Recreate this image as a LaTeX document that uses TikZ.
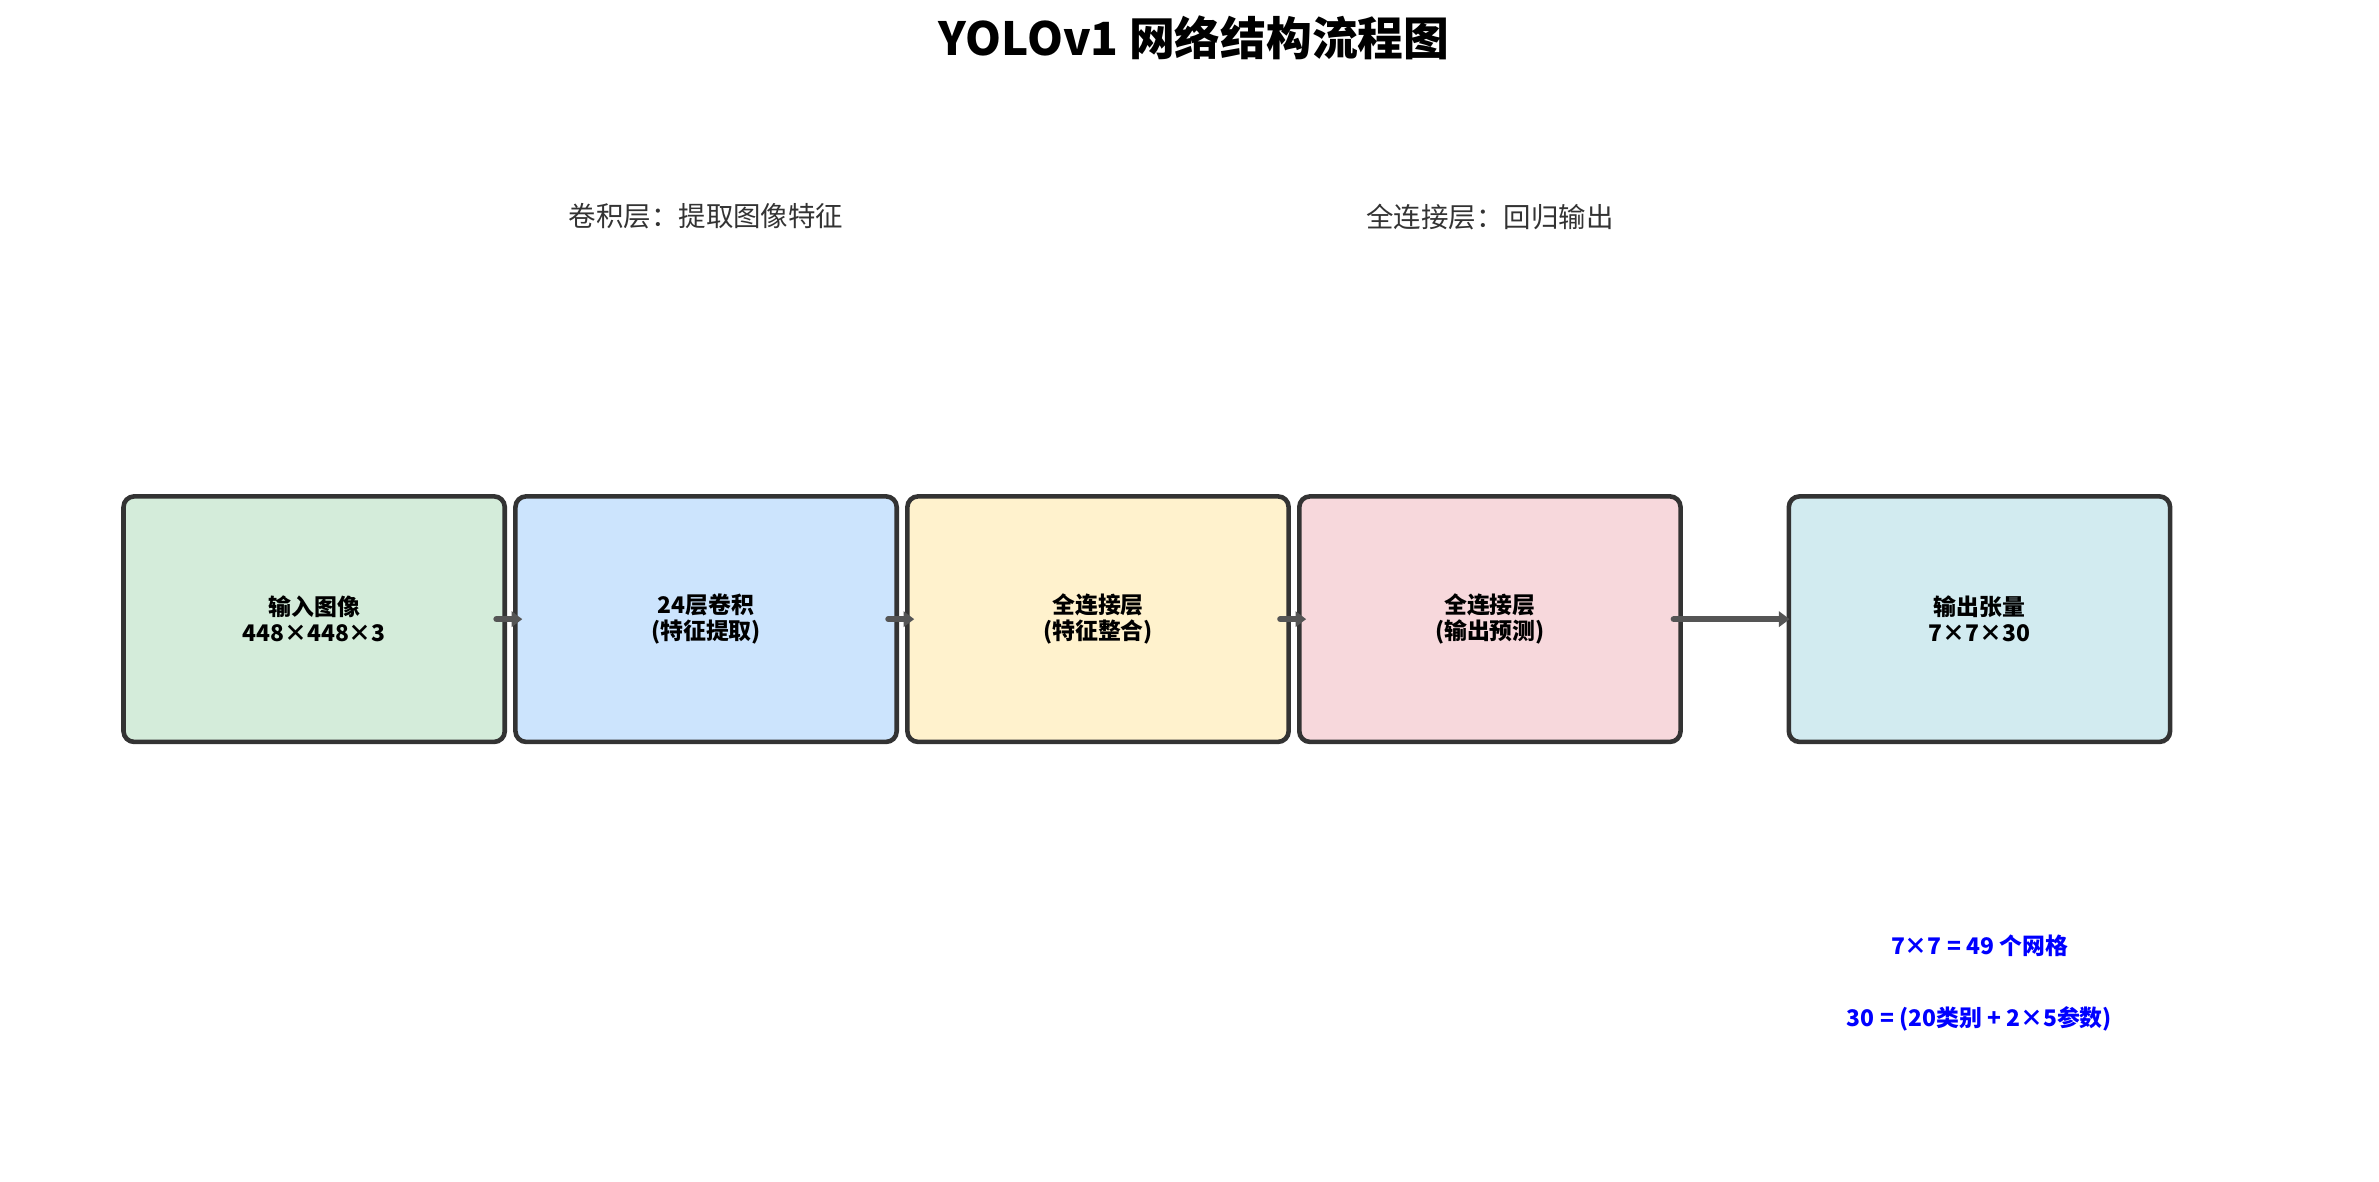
\documentclass[tikz,border=0pt]{standalone}
\usepackage{fontspec}
\newfontfamily\cjk{Noto Sans CJK SC}
\newfontfamily\cjkb{Noto Sans CJK SC Bold}
\usetikzlibrary{arrows.meta}
\definecolor{bd}{HTML}{333333}
\definecolor{ar}{HTML}{555555}
\tikzset{
 box/.style={draw=bd,line width=3pt,rounded corners=7pt,minimum width=250pt,minimum height=161pt,inner sep=0,align=center,font=\cjk\bfseries\fontsize{15}{17}\selectfont},
 arr/.style={draw=ar,line width=4pt,line cap=round,-{Triangle[length=7pt,width=10pt]}},
 lab/.style={font=\cjk\fontsize{18}{20}\selectfont,text=bd},
 note/.style={font=\cjk\bfseries\fontsize{15}{17}\selectfont,text=blue}
}
\begin{document}
\begin{tikzpicture}[x=1pt,y=-1pt]
\useasboundingbox (0,0) rectangle (1560,775);
\node[font=\cjk\bfseries\fontsize{30}{34}\selectfont] (t) at (783,25) {YOLOv1 网络结构流程图};
\node[lab] (l1) at (463,142) {卷积层：提取图像特征};
\node[lab] (l2) at (977,142) {全连接层：回归输出};
\node[box,fill=green!15!white,fill={rgb,255:red,212;green,236;blue,218}] (b1) at (206,406) {输入图像\\448×448×3};
\node[box,fill={rgb,255:red,204;green,228;blue,253}] (b2) at (463,406) {24层卷积\\(特征提取)};
\node[box,fill={rgb,255:red,255;green,242;blue,205}] (b3) at (720,406) {全连接层\\(特征整合)};
\node[box,fill={rgb,255:red,247;green,216;blue,220}] (b4) at (977,406) {全连接层\\(输出预测)};
\node[box,fill={rgb,255:red,210;green,235;blue,240}] (b5) at (1298,406) {输出张量\\7×7×30};
\draw[arr] ([xshift=-7pt]b1.east) -- ([xshift=10pt]b1.east);
\draw[arr] ([xshift=-7pt]b2.east) -- ([xshift=10pt]b2.east);
\draw[arr] ([xshift=-7pt]b3.east) -- ([xshift=10pt]b3.east);
\draw[arr] ([xshift=-6pt]b4.east) -- ([xshift=2pt]b5.west);
\node[note] (n1) at (1298,620) {7×7 = 49 个网格};
\node[note] (n2) at (1298,668) {30 = (20类别 + 2×5参数)};
\end{tikzpicture}
\end{document}
